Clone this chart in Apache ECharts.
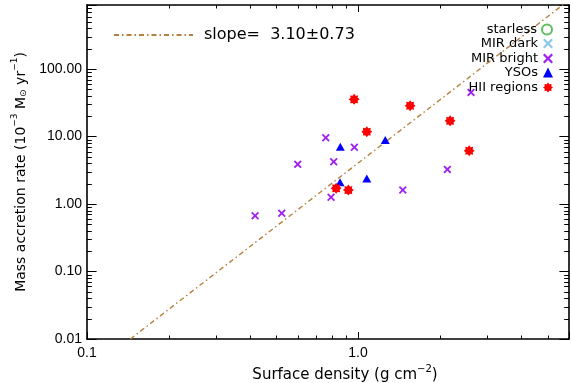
<!DOCTYPE html>
<html><head><meta charset="utf-8">
<script src="https://cdn.jsdelivr.net/npm/echarts@6/dist/echarts.min.js"></script>
<style>html,body{margin:0;padding:0;background:#fff}#c{width:571px;height:383px}</style>
</head><body><div id="c"></div>
<script>
// ---- data ----
const hiiX = [0.967, 1.556, 2.185, 2.57, 1.077, 0.83, 0.921];
const hiiY = [35.6, 28.6, 17.1, 6.16, 11.8, 1.71, 1.61];
const ysoX = [0.86, 1.26, 0.858, 1.077];
const ysoY = [7.06, 8.87, 2.10, 2.40];
const mirBrightX = [0.76, 0.969, 0.813, 0.599, 2.135, 1.462, 0.795, 2.61, 0.417, 0.523];
const mirBrightY = [9.6, 6.92, 4.24, 3.87, 3.26, 1.61, 1.26, 45.1, 0.671, 0.728];
const mirDarkX = [];
const mirDarkY = [];
const starlessX = [];
const starlessY = [];
const fitX = [0.1445, 6.0];
const fitY = [0.01, 1050];
const slopeLabel = 'slope=  3.10\u00b10.73';
const seriesNames = ['starless', 'MIR dark', 'MIR bright', 'YSOs', 'HII regions'];
const xRange = [0.1, 6];
const yRange = [0.01, 890];
const xMinor = [0.2, 0.3, 0.4, 0.5, 0.6, 0.7, 0.8, 0.9, 2, 3, 4, 5];
const yMinor = [0.02, 0.03, 0.04, 0.05, 0.06, 0.07, 0.08, 0.09,
                0.2, 0.3, 0.4, 0.5, 0.6, 0.7, 0.8, 0.9,
                2, 3, 4, 5, 6, 7, 8, 9,
                20, 30, 40, 50, 60, 70, 80, 90,
                200, 300, 400, 500, 600, 700, 800];
const xDecimals = 1;
const yDecimals = 2;

const zip = (a, b) => a.map((v, i) => [v, b[i]]);
const isDecade = v => Math.abs(Math.log10(v) - Math.round(Math.log10(v))) < 1e-6;

const starPath = 'path://M20,10 L16.5,12.7 L17.07,17.07 L12.7,16.5 L10,20 L7.3,16.5 L2.93,17.07 L3.5,12.7 L0,10 L3.5,7.3 L2.93,2.93 L7.3,3.5 L10,0 L12.7,3.5 L17.07,2.93 L16.5,7.3 Z';
const crossPath = 'path://M1.6,0 L5,3.4 L8.4,0 L10,1.6 L6.6,5 L10,8.4 L8.4,10 L5,6.6 L1.6,10 L0,8.4 L3.4,5 L0,1.6 Z';

const numFont = 'Liberation Sans';
const txtFont = 'DejaVu Sans';

const chart = echarts.init(document.getElementById('c'), null, {renderer: 'canvas'});

const axisCommon = {
  type: 'log', logBase: 10,
  axisLine: {show: true, lineStyle: {color: '#000', width: 1.6}},
  splitLine: {show: false},
  minorTick: {show: false}
};

function legendFor(name, top) {
  return {
    data: [name], right: 18, top: top, align: 'right', orient: 'vertical',
    padding: 0, itemWidth: 10, itemHeight: 10, selectedMode: false,
    textStyle: {fontSize: 13, fontFamily: txtFont, color: '#000'}
  };
}

const option = {
  animation: false,
  backgroundColor: '#fff',
  grid: {left: 87, right: 2, top: 5, bottom: 44, outerBoundsMode: 'none'},
  xAxis: [
    Object.assign({}, axisCommon, {
      min: xRange[0], max: xRange[1], position: 'bottom',
      axisTick: {show: true, inside: true, length: 7, lineStyle: {color: '#000', width: 1}},
      axisLabel: {show: true, margin: 7, fontSize: 14, fontFamily: numFont, color: '#000',
        formatter: v => isDecade(v) ? Number(v).toFixed(xDecimals) : ''},
      name: '{t|Surface density (g cm}{s|\u22122}{t|)}',
      nameLocation: 'middle', nameGap: 22,
      nameTextStyle: {rich: {
        t: {fontSize: 15, fontFamily: txtFont, color: '#000', lineHeight: 18, verticalAlign: 'bottom'},
        s: {fontSize: 10, fontFamily: txtFont, color: '#000', lineHeight: 10, verticalAlign: 'top'}
      }, padding: [0, 0, 0, 34]}
    }),
    Object.assign({}, axisCommon, {
      min: xRange[0], max: xRange[1], position: 'top',
      axisTick: {show: true, inside: true, length: 7, lineStyle: {color: '#000', width: 1}},
      axisLabel: {show: false}
    })
  ],
  yAxis: [
    Object.assign({}, axisCommon, {
      min: yRange[0], max: yRange[1], position: 'left',
      axisTick: {show: true, inside: true, length: 9.6, lineStyle: {color: '#000', width: 1}},
      axisLabel: {show: true, margin: 5, fontSize: 14, fontFamily: numFont, color: '#000',
        formatter: v => isDecade(v) ? Number(v).toFixed(yDecimals) : ''},
      name: '{t|Mass accretion rate (10}{s|\u22123}{t| M}{b|\u2299}{t| yr}{s|\u22121}{t|)}',
      nameLocation: 'middle', nameGap: 57,
      nameTextStyle: {rich: {
        t: {fontSize: 14, fontFamily: txtFont, color: '#000', lineHeight: 18, verticalAlign: 'bottom'},
        s: {fontSize: 9, fontFamily: txtFont, color: '#000', lineHeight: 9, verticalAlign: 'top'},
        b: {fontSize: 9, fontFamily: txtFont, color: '#000', lineHeight: 9, verticalAlign: 'bottom'}
      }}
    }),
    Object.assign({}, axisCommon, {
      min: yRange[0], max: yRange[1], position: 'right',
      axisTick: {show: true, inside: true, length: 9.6, lineStyle: {color: '#000', width: 1}},
      axisLabel: {show: false}
    })
  ],
  legend: [
    {
      data: [slopeLabel], left: 113, top: 27, padding: 0, itemWidth: 79, itemHeight: 14,
      selectedMode: false,
      itemStyle: {color: 'rgba(0,0,0,0)', borderColor: 'rgba(0,0,0,0)', borderWidth: 0, opacity: 0},
      textStyle: {fontSize: 16, fontFamily: txtFont, color: '#000', padding: [0, 0, 0, 6]}
    },
    legendFor(seriesNames[0], 23),
    legendFor(seriesNames[1], 37),
    legendFor(seriesNames[2], 52),
    legendFor(seriesNames[3], 66),
    legendFor(seriesNames[4], 81)
  ],
  series: [
    {
      name: slopeLabel, type: 'line', data: zip(fitX, fitY), symbol: 'none', clip: true,
      lineStyle: {color: '#b8803f', width: 1.4, type: [5, 3, 1.5, 3]},
      itemStyle: {color: '#b8803f'}, z: 1
    },
    {
      name: seriesNames[0], type: 'scatter', data: zip(starlessX, starlessY),
      symbol: 'emptyCircle', symbolSize: 9,
      itemStyle: {color: '#5fbf5f', borderColor: '#5fbf5f', borderWidth: 1.5, opacity: 1}
    },
    {
      name: seriesNames[1], type: 'scatter', data: zip(mirDarkX, mirDarkY),
      symbol: crossPath, symbolSize: 8, itemStyle: {color: '#8cc8ea', opacity: 1}
    },
    {
      name: seriesNames[2], type: 'scatter', data: zip(mirBrightX, mirBrightY),
      symbol: crossPath, symbolSize: 8, itemStyle: {color: '#a020f0', opacity: 1}, z: 3
    },
    {
      name: seriesNames[3], type: 'scatter', data: zip(ysoX, ysoY),
      symbol: 'triangle', symbolSize: [9, 8], itemStyle: {color: '#0000ff', opacity: 1}, z: 3
    },
    {
      name: seriesNames[4], type: 'scatter', data: zip(hiiX, hiiY),
      symbol: starPath, symbolSize: 11, itemStyle: {color: '#ff0000', opacity: 1}, z: 4
    },
    {
      type: 'custom', silent: true, data: [[1, 1]], z: 5,
      renderItem: (params, api) => {
        const bl = api.coord([xRange[0], yRange[0]]);
        const tr = api.coord([xRange[1], yRange[1]]);
        const left = bl[0], bottom = bl[1], right = tr[0], top = tr[1];
        const st = {stroke: '#000', lineWidth: 1};
        const ch = [];
        xMinor.forEach(v => {
          const px = Math.round(api.coord([v, yRange[0]])[0]) + 0.5;
          ch.push({type: 'line', shape: {x1: px, y1: bottom, x2: px, y2: bottom - 3.5}, style: st});
          ch.push({type: 'line', shape: {x1: px, y1: top, x2: px, y2: top + 3.5}, style: st});
        });
        yMinor.forEach(v => {
          const py = Math.round(api.coord([xRange[0], v])[1]) + 0.5;
          ch.push({type: 'line', shape: {x1: left, y1: py, x2: left + 4.8, y2: py}, style: st});
          ch.push({type: 'line', shape: {x1: right, y1: py, x2: right - 4.8, y2: py}, style: st});
        });
        return {type: 'group', children: ch};
      }
    }
  ]
};
chart.setOption(option);
</script>
</body></html>
